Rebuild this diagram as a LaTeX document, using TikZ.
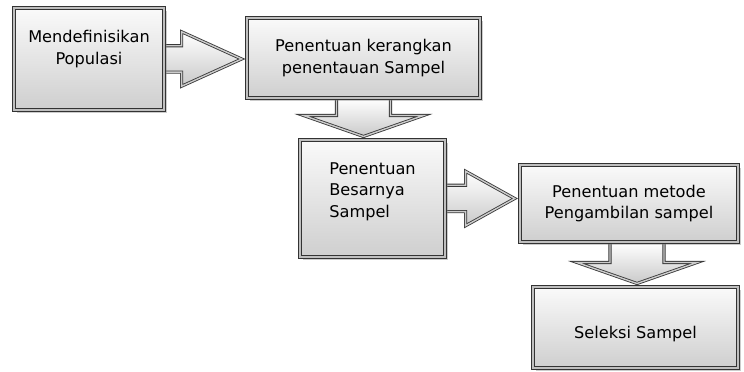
\documentclass[tikz,border=0pt]{standalone}
\usepackage{fontspec}
\setmainfont{DejaVu Sans}
\usetikzlibrary{calc, shadows, backgrounds}

% block arrow pointing right: from, to, head length
\newcommand{\rightblock}[3]{%
  \path[blk] let \p1=(#1.east), \p2=(#2.west) in
    (\x1, \y1+0.33cm) -- (\x2-0.12cm-#3, \y1+0.33cm) -- (\x2-0.12cm-#3, \y1+0.68cm)
    -- (\x2-0.12cm, \y1) -- (\x2-0.12cm-#3, \y1-0.68cm) -- (\x2-0.12cm-#3, \y1-0.33cm)
    -- (\x1, \y1-0.33cm);}
% block arrow pointing down: from, to, x shift
\newcommand{\downblock}[3]{%
  \path[blk] let \p1=($(#1.south)+(#3,0)$), \p2=(#2.north) in
    (\x1-0.675cm, \y1) -- (\x1-0.675cm, \y2+0.6cm) -- (\x1-1.5cm, \y2+0.6cm)
    -- (\x1, \y2+0.075cm) -- (\x1+1.5cm, \y2+0.6cm) -- (\x1+0.675cm, \y2+0.6cm)
    -- (\x1+0.675cm, \y1);}

\begin{document}
\begin{tikzpicture}[
  x=0.025cm, y=0.025cm,
  font=\fontsize{11.5}{15.5}\selectfont,
  box/.style={rectangle, draw=black!80, line width=0.7pt, double=gray!50,
              double distance=1.8pt, top color=gray!4, bottom color=gray!38,
              align=center, inner sep=2pt,
              drop shadow={shadow xshift=1.8pt, shadow yshift=-1.8pt, opacity=0.4}},
  blk/.style={draw=black!78, line width=0.6pt, double=gray!40, double distance=1pt,
              top color=white, bottom color=gray!42},
  lift/.style={text depth=#1},
  sink/.style={text height=#1}
]
\useasboundingbox (0,0) rectangle (744,372);

% ============================================================ boxes
\node[box, minimum width=3.75cm, minimum height=2.55cm, lift=0.57cm] (b1) at (89, 313)
  {Mendefinisikan\\Populasi};
\node[box, minimum width=5.825cm, minimum height=2.0cm] (b2) at (363.5, 314)
  {Penentuan kerangkan\\penentauan Sampel};
\node[box, minimum width=3.625cm, minimum height=2.925cm, align=left, lift=0.42cm] (b3)
  at (372.5, 173.5) {Penentuan\\Besarnya\\Sampel};
\node[box, minimum width=5.45cm, minimum height=1.925cm] (b4) at (629, 168.5)
  {Penentuan metode\\Pengambilan sampel};
\node[box, minimum width=5.125cm, minimum height=2.025cm, sink=0.62cm] (b5)
  at (635.5, 44.5) {Seleksi Sampel};

% ============================================================ arrows
\begin{scope}[on background layer]
  \rightblock{b1}{b2}{1.5cm}
  \downblock{b2}{b3}{0cm}
  \rightblock{b3}{b4}{1.225cm}
  \downblock{b4}{b5}{0.2cm}
\end{scope}

\end{tikzpicture}
\end{document}
